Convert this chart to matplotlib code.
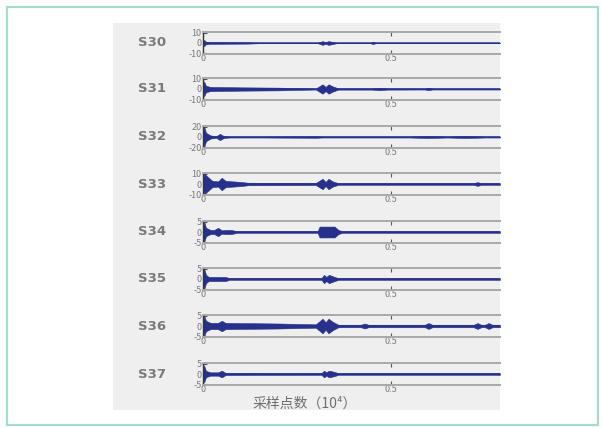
import numpy as np
import matplotlib
matplotlib.use("Agg")
import matplotlib.pyplot as plt
from matplotlib.patches import Rectangle

plt.rcParams['font.family'] = ['Noto Sans CJK SC', 'DejaVu Sans']

# channel names and y limits (tick values)
channels = ['S30', 'S31', 'S32', 'S33', 'S34', 'S35', 'S36', 'S37']
ylims = [10, 10, 20, 10, 5, 5, 5, 5]

# envelope of each trace:
# sample position (x10^4) and half amplitude
env_x = {
    'S30': [0, 0.003, 0.008, 0.02, 0.12, 0.15, 0.305, 0.318, 0.326, 0.334, 0.345, 0.355,
            0.445, 0.452, 0.46, 0.79],
    'S31': [0, 0.003, 0.008, 0.02, 0.1, 0.2, 0.26, 0.3, 0.318, 0.326, 0.334, 0.345, 0.36,
            0.45, 0.47, 0.49, 0.59, 0.6, 0.61, 0.79],
    'S32': [0, 0.003, 0.008, 0.02, 0.035, 0.045, 0.055, 0.07, 0.15, 0.3, 0.32, 0.55,
            0.6, 0.65, 0.7, 0.75, 0.79],
    'S33': [0, 0.003, 0.012, 0.025, 0.04, 0.05, 0.06, 0.1, 0.12, 0.3, 0.318, 0.326,
            0.334, 0.345, 0.36, 0.72, 0.73, 0.74, 0.79],
    'S34': [0, 0.003, 0.008, 0.02, 0.03, 0.04, 0.05, 0.06, 0.075, 0.09, 0.305, 0.31,
            0.35, 0.36, 0.37, 0.79],
    'S35': [0, 0.003, 0.008, 0.015, 0.06, 0.07, 0.315, 0.322, 0.328, 0.335, 0.35, 0.36,
            0.79],
    'S36': [0, 0.003, 0.008, 0.02, 0.04, 0.05, 0.06, 0.1, 0.2, 0.3, 0.318, 0.326, 0.334,
            0.345, 0.36, 0.42, 0.43, 0.44, 0.59, 0.6, 0.61, 0.72, 0.73, 0.74, 0.75, 0.76,
            0.77, 0.79],
    'S37': [0, 0.003, 0.008, 0.02, 0.04, 0.05, 0.06, 0.315, 0.322, 0.328, 0.335, 0.35,
            0.36, 0.79],
}
env_a = {
    'S30': [0.5, 3, 1.2, 0.8, 0.6, 0.2, 0.2, 1.8, 0.8, 1.8, 1, 0.2, 0.2, 1, 0.2, 0.2],
    'S31': [1, 7, 3, 2, 1.6, 1.3, 0.8, 0.5, 4.5, 2, 4.5, 2.5, 0.6, 0.6, 1.2, 0.6, 0.5,
            1.2, 0.5, 0.5],
    'S32': [2, 20, 8, 3, 1.5, 6, 2, 1, 1, 1.5, 1, 1, 2, 1, 2, 1, 1],
    'S33': [3, 10, 7, 3, 2.5, 6, 3, 2, 1.2, 1, 5, 2, 5, 2.5, 0.8, 0.8, 1.8, 0.8, 0.8],
    'S34': [1, 5, 2, 1, 1, 2, 0.8, 1, 1, 0.4, 0.4, 2.6, 2.6, 1, 0.4, 0.4],
    'S35': [1, 5, 2, 1, 1, 0.4, 0.4, 2, 1, 2, 1, 0.4, 0.4],
    'S36': [1, 5, 2.5, 1.5, 1.5, 2.5, 1.5, 1.4, 1.2, 0.8, 3.5, 1.8, 3.5, 2, 0.6, 0.6, 1.2,
            0.6, 0.6, 1.4, 0.6, 0.6, 1.4, 0.6, 0.6, 1.4, 0.6, 0.6],
    'S37': [0.8, 4, 1.5, 0.8, 0.8, 1.6, 0.5, 0.4, 1.6, 0.8, 1.6, 1, 0.4, 0.4],
}

xticks = [0, 0.5]
xtick_labels = ['0', '0.5']
xmax = 0.79

W, H = 602, 428
fig = plt.figure(figsize=(W / 100, H / 100), dpi=100)


def fx(px):
    return px / W


def fy(py):
    return 1 - py / H


# outer frame and grey panel
fig.patches.append(Rectangle((fx(7), fy(425)), fx(591), 418 / H, transform=fig.transFigure,
                             facecolor='white', edgecolor='#a6dccf', linewidth=1.6, zorder=-3))
fig.patches.append(Rectangle((fx(113), fy(410)), fx(387), 387 / H, transform=fig.transFigure,
                             facecolor='#efefef', edgecolor='none', zorder=-2))

centers = [43, 89, 137, 184, 232, 279, 326, 374]
ax_h = 22
line_col = '#27308a'
grey = '#7a7a7a'

for name, lim, cy in zip(channels, ylims, centers):
    ax = fig.add_axes([fx(203), fy(cy + ax_h / 2), fx(297), ax_h / H])
    ax.set_facecolor('none')
    x = np.array(env_x[name])
    a = np.array(env_a[name])
    ax.fill_between(x, -a, a, color=line_col, linewidth=0.4, zorder=2)
    ax.axhline(0, color='#3a47a0', linewidth=1.2, zorder=1)
    ax.set_xlim(0, xmax)
    ax.set_ylim(-lim * 1.05, lim * 1.05)
    ax.set_yticks([lim, 0, -lim])
    ax.set_yticklabels([str(lim), '0', str(-lim)], fontsize=6.5, color=grey)
    ax.set_xticks(xticks)
    ax.set_xticklabels(xtick_labels, fontsize=6.5, color=grey)
    ax.tick_params(axis='both', direction='in', length=3, width=0.8, pad=1, color='#555555')
    ax.tick_params(axis='x', top=True, pad=0)
    for side in ['top', 'bottom']:
        ax.spines[side].set_color('#a9a9a9')
        ax.spines[side].set_linewidth(1.4)
    ax.spines['left'].set_color('#333333')
    ax.spines['left'].set_linewidth(1.0)
    ax.spines['right'].set_visible(False)
    fig.text(fx(152), fy(cy), name, fontsize=9.5, fontweight='bold', color='#7a7a7a',
             ha='center', va='center', family=['DejaVu Sans'])

fig.text(fx(305), fy(404), '采样点数（10⁴）', fontsize=10, color='#6f6f6f',
         ha='center', va='center')

fig.savefig('out.png', dpi=100)
